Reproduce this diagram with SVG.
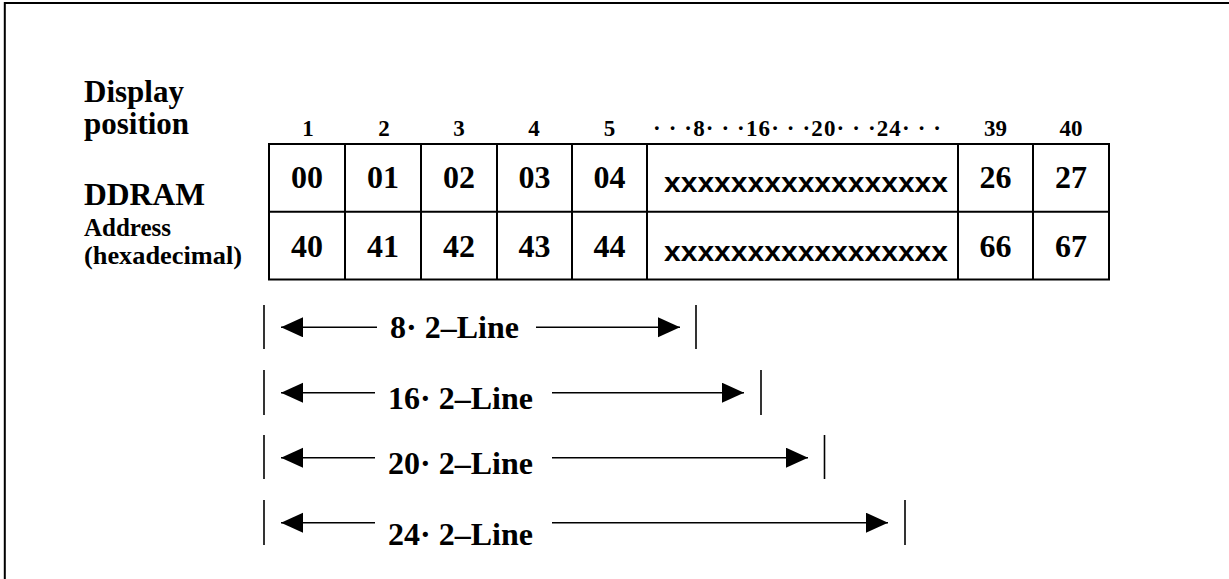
<svg xmlns="http://www.w3.org/2000/svg" width="1229" height="579" viewBox="0 0 1229 579">
<style>
.b{font-family:"Liberation Serif","Times New Roman",serif;font-weight:bold;fill:#000}
.cell{font-size:32px;text-anchor:middle}
.hd{font-size:23px;text-anchor:middle}
.lbl{font-size:31px}
.sm{font-size:25px}
.xs{font-family:"Liberation Sans",Arial,sans-serif;font-weight:bold;font-size:27px;fill:#000}
.ln{stroke:#000;stroke-width:2;fill:none}
.th{stroke:#000;stroke-width:1.6;fill:none}
.arr{stroke:#000;stroke-width:1.6;fill:none;marker-end:url(#ah)}
.al{font-size:32px}
</style>
<defs>
<marker id="ah" markerUnits="userSpaceOnUse" markerWidth="23" markerHeight="21" refX="22" refY="10" orient="auto">
<path d="M0,0 L22,10 L0,20 Z" fill="#000"/>
</marker>
</defs>
<path class="ln" d="M4.8,580 V3 H1230"/>
<g id="labels">
<text class="b lbl" x="84" y="102">Display</text>
<text class="b lbl" x="84" y="134">position</text>
<text class="b lbl" x="84" y="205" textLength="121" lengthAdjust="spacingAndGlyphs">DDRAM</text>
<text class="b sm" x="84" y="236">Address</text>
<text class="b sm" x="84" y="264" textLength="158" lengthAdjust="spacingAndGlyphs">(hexadecimal)</text>
</g>
<g id="header">
<text class="b hd" x="308" y="136">1</text>
<text class="b hd" x="384" y="136">2</text>
<text class="b hd" x="459" y="136">3</text>
<text class="b hd" x="534" y="136">4</text>
<text class="b hd" x="609.5" y="136">5</text>
<text class="b" style="font-size:23px" x="653" y="136" textLength="288" lengthAdjust="spacing">· · ·8· · ·16· · ·20· · ·24· · ·</text>
<text class="b hd" x="995.5" y="136">39</text>
<text class="b hd" x="1071" y="136">40</text>
</g>
<g id="table">
<rect class="ln" x="269" y="144" width="840" height="135.5"/>
<line class="ln" x1="269" y1="211.7" x2="1109" y2="211.7"/>
<line class="ln" x1="345" y1="144" x2="345" y2="279.5"/>
<line class="ln" x1="421" y1="144" x2="421" y2="279.5"/>
<line class="ln" x1="497" y1="144" x2="497" y2="279.5"/>
<line class="ln" x1="572" y1="144" x2="572" y2="279.5"/>
<line class="ln" x1="647" y1="144" x2="647" y2="279.5"/>
<line class="ln" x1="958" y1="144" x2="958" y2="279.5"/>
<line class="ln" x1="1033" y1="144" x2="1033" y2="279.5"/>
<text class="b cell" x="307" y="188">00</text>
<text class="b cell" x="383" y="188">01</text>
<text class="b cell" x="459" y="188">02</text>
<text class="b cell" x="534.5" y="188">03</text>
<text class="b cell" x="609.5" y="188">04</text>
<text class="xs" x="664" y="191.7" textLength="284" lengthAdjust="spacingAndGlyphs">xxxxxxxxxxxxxxxxx</text>
<text class="b cell" x="995.5" y="188">26</text>
<text class="b cell" x="1071" y="188">27</text>
<text class="b cell" x="307" y="257">40</text>
<text class="b cell" x="383" y="257">41</text>
<text class="b cell" x="459" y="257">42</text>
<text class="b cell" x="534.5" y="257">43</text>
<text class="b cell" x="609.5" y="257">44</text>
<text class="xs" x="664" y="260.5" textLength="284" lengthAdjust="spacingAndGlyphs">xxxxxxxxxxxxxxxxx</text>
<text class="b cell" x="995.5" y="257">66</text>
<text class="b cell" x="1071" y="257">67</text>
</g>
<g id="connectors">
<line class="th" x1="264" y1="305" x2="264" y2="349"/>
<line class="th" x1="696" y1="305" x2="696" y2="349"/>
<line class="arr" x1="377" y1="327.3" x2="281" y2="327.3"/>
<line class="arr" x1="536" y1="327.3" x2="680" y2="327.3"/>
<line class="th" x1="264" y1="370" x2="264" y2="415"/>
<line class="th" x1="761" y1="370" x2="761" y2="415"/>
<line class="arr" x1="375" y1="392.7" x2="281" y2="392.7"/>
<line class="arr" x1="552" y1="392.7" x2="744" y2="392.7"/>
<line class="th" x1="264" y1="435" x2="264" y2="479"/>
<line class="th" x1="824.5" y1="435" x2="824.5" y2="479"/>
<line class="arr" x1="375" y1="457.7" x2="281" y2="457.7"/>
<line class="arr" x1="552" y1="457.7" x2="808" y2="457.7"/>
<line class="th" x1="264" y1="500" x2="264" y2="545"/>
<line class="th" x1="905" y1="500" x2="905" y2="545"/>
<line class="arr" x1="375" y1="522.7" x2="281" y2="522.7"/>
<line class="arr" x1="552" y1="522.7" x2="888" y2="522.7"/>
</g>
<g id="arrow-labels">
<text class="b al" x="390" y="338">8· 2–Line</text>
<text class="b al" x="388" y="409">16· 2–Line</text>
<text class="b al" x="388" y="474">20· 2–Line</text>
<text class="b al" x="388" y="545">24· 2–Line</text>
</g>
</svg>
